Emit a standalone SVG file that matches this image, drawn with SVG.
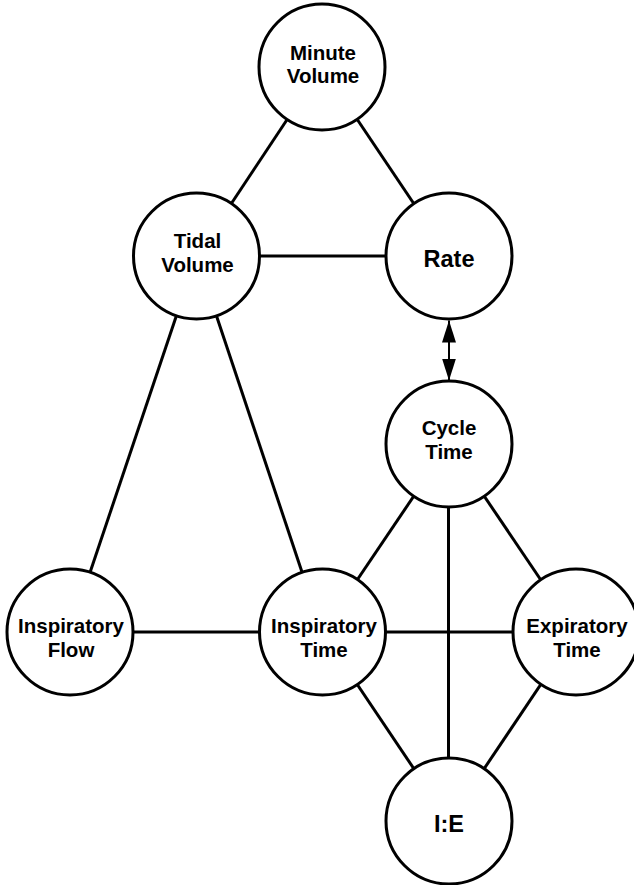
<svg xmlns="http://www.w3.org/2000/svg" width="634" height="885" viewBox="0 0 634 885">
  <style>
    .node circle { fill: #ffffff; stroke: #000000; stroke-width: 3; }
    .node text { font-family: "Liberation Sans", Arial, sans-serif; font-weight: bold; font-size: 20.5px; text-anchor: middle; fill: #000000; }
    .node text.big { font-size: 23.5px; }
    .edge { stroke: #000000; stroke-width: 3; fill: none; }
    .arrow { stroke: #000000; stroke-width: 2; fill: none; }
  </style>
  <defs>
    <marker id="head" viewBox="0 0 22 14" refX="22" refY="7" markerWidth="22" markerHeight="14" markerUnits="userSpaceOnUse" orient="auto-start-reverse">
      <path d="M0,0 L22,7 L0,14 Z" fill="#000000"/>
    </marker>
  </defs>
  <rect width="634" height="885" fill="#ffffff"/>
  <g id="connectors">
    <line class="edge" x1="322" y1="67" x2="196.5" y2="256"/>
    <line class="edge" x1="322" y1="67" x2="449" y2="256"/>
    <line class="edge" x1="196.5" y1="256" x2="449" y2="256"/>
    <line class="edge" x1="196.5" y1="256" x2="70" y2="632"/>
    <line class="edge" x1="196.5" y1="256" x2="322" y2="632"/>
    <line class="edge" x1="70" y1="632" x2="322" y2="632"/>
    <line class="edge" x1="322" y1="632" x2="576" y2="632"/>
    <line class="edge" x1="449" y1="444" x2="322" y2="632"/>
    <line class="edge" x1="449" y1="444" x2="576" y2="632"/>
    <line class="edge" x1="448.5" y1="444" x2="448.5" y2="821"/>
    <line class="edge" x1="322" y1="632" x2="449" y2="821"/>
    <line class="edge" x1="576" y1="632" x2="449" y2="821"/>
    <line class="arrow" x1="449" y1="320.5" x2="449" y2="380.5" marker-start="url(#head)" marker-end="url(#head)"/>
  </g>
  <g id="minute-volume" class="node">
    <circle cx="322" cy="67" r="63"/>
    <text x="323" y="60">Minute</text>
    <text x="323" y="83">Volume</text>
  </g>
  <g id="tidal-volume" class="node">
    <circle cx="196.5" cy="256" r="63"/>
    <text x="197.5" y="248">Tidal</text>
    <text x="197.5" y="272">Volume</text>
  </g>
  <g id="rate" class="node">
    <circle cx="449" cy="256" r="63"/>
    <text class="big" x="449" y="267">Rate</text>
  </g>
  <g id="cycle-time" class="node">
    <circle cx="449" cy="444" r="63"/>
    <text x="449" y="435">Cycle</text>
    <text x="449" y="459">Time</text>
  </g>
  <g id="inspiratory-flow" class="node">
    <circle cx="70" cy="632" r="63"/>
    <text x="71" y="633">Inspiratory</text>
    <text x="71" y="657">Flow</text>
  </g>
  <g id="inspiratory-time" class="node">
    <circle cx="322.5" cy="632" r="63"/>
    <text x="324" y="633">Inspiratory</text>
    <text x="324" y="657">Time</text>
  </g>
  <g id="expiratory-time" class="node">
    <circle cx="576" cy="632" r="63"/>
    <text x="577" y="633">Expiratory</text>
    <text x="577" y="657">Time</text>
  </g>
  <g id="ie" class="node">
    <circle cx="449" cy="821" r="63"/>
    <text class="big" x="449" y="832">I:E</text>
  </g>
</svg>
